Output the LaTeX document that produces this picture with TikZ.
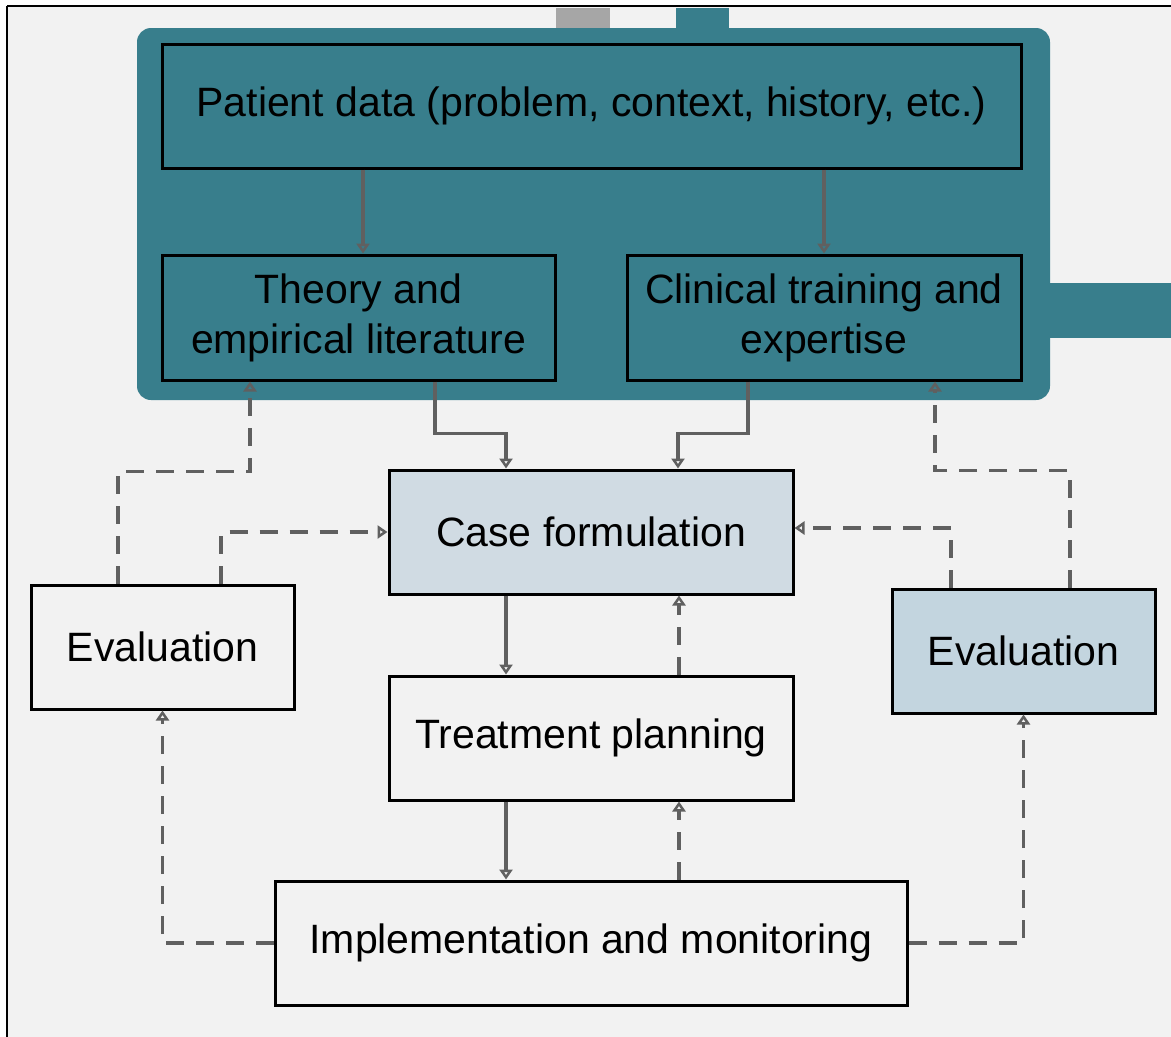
\documentclass[tikz,border=0pt]{standalone}
\usepackage{fontspec}
\setmainfont{Liberation Sans}
\usetikzlibrary{arrows.meta,calc}
\definecolor{tealc}{HTML}{387E8C}
\definecolor{bgc}{HTML}{F2F2F2}
\definecolor{casec}{HTML}{D0DBE3}
\definecolor{evalc}{HTML}{C3D5DF}
\definecolor{linec}{HTML}{606060}
\definecolor{tabgray}{HTML}{A6A6A6}
\tikzset{
  box/.style={draw=black, line width=3pt, inner sep=0pt, align=center,
    font=\fontsize{41}{50}\selectfont, text=black},
  arr/.style={draw=linec, line width=3.5pt,
    -{Triangle[open,width=13pt,length=10pt,line width=2.5pt]}},
  darr/.style={arr, dash pattern=on 18pt off 12pt},
}
\begin{document}
\begin{tikzpicture}[x=1pt,y=-1pt]
\useasboundingbox (0,0) rectangle (1171,1037);
\fill[white] (0,0) rectangle (1171,1037);
\fill[bgc] (7,6) rectangle (1171,1037);
\draw[black, line width=2.5pt] (7,6) -- (1171,6);
\draw[black, line width=2pt] (7,6) -- (7,1037);
% decorations of the teal frame
\fill[tabgray] (556,7.5) rectangle (610,28);
\fill[tealc] (676,7.5) rectangle (729,30);
\fill[tealc] (1040,283) rectangle (1171,338);
\fill[tealc, rounded corners=14pt] (137,28) rectangle (1050,400);
% nodes
\node[box, fill=tealc, minimum width=859pt, minimum height=124pt] (patient) at (591.5,106) {Patient data (problem, context, history, etc.)};
\node[box, fill=tealc, minimum width=393pt, minimum height=125pt] (theory) at (358.5,317.5) {Theory and\\empirical literature};
\node[box, fill=tealc, minimum width=394pt, minimum height=125pt] (clinical) at (824,317.5) {Clinical training and\\expertise};
\node[box, fill=casec, minimum width=404pt, minimum height=124pt] (case) at (591,532) {Case formulation};
\node[box, fill=bgc, minimum width=404pt, minimum height=124pt] (treat) at (591,738) {Treatment planning};
\node[box, fill=bgc, minimum width=632pt, minimum height=124pt] (impl) at (591,943) {Implementation and monitoring};
\node[box, fill=bgc, minimum width=263pt, minimum height=124pt] (evalL) at (162.5,647) {Evaluation};
\node[box, fill=evalc, minimum width=263pt, minimum height=124pt] (evalR) at (1023.5,651) {Evaluation};
% solid connectors
\draw[arr] ([xshift=4.5pt]theory.north |- patient.south) -- ([xshift=4.5pt]theory.north);
\draw[arr] (clinical.north |- patient.south) -- (clinical.north);
\draw[arr] ([xshift=76.5pt]theory.south) -- ++(0,52) -| ([xshift=-85pt]case.north);
\draw[arr] ([xshift=-76pt]clinical.south) -- ++(0,52) -| ([xshift=87pt]case.north);
\draw[arr] ([xshift=-85pt]case.south) -- ([xshift=-85pt]treat.north);
\draw[arr] ([xshift=-85pt]treat.south) -- ([xshift=-85pt]impl.north);
% dashed connectors
\draw[darr] ([xshift=88pt]treat.north) -- ([xshift=88pt]case.south);
\draw[darr] ([xshift=88pt]impl.north) -- ([xshift=88pt]treat.south);
\draw[darr] (impl.west) -| (evalL.south);
\draw[darr] (impl.east) -| (evalR.south);
\draw[darr] ([xshift=-44.5pt]evalL.north) -- ++(0,-112) -| ([xshift=-108.5pt]theory.south);
\draw[darr] ([xshift=58.5pt]evalL.north) |- (case.west);
\draw[darr] ([xshift=-72.5pt]evalR.north) |- ([yshift=4pt]case.east);
\draw[darr] ([xshift=46.5pt]evalR.north) -- ++(0,-117) -| ([xshift=111pt]clinical.south);
\end{tikzpicture}
\end{document}
